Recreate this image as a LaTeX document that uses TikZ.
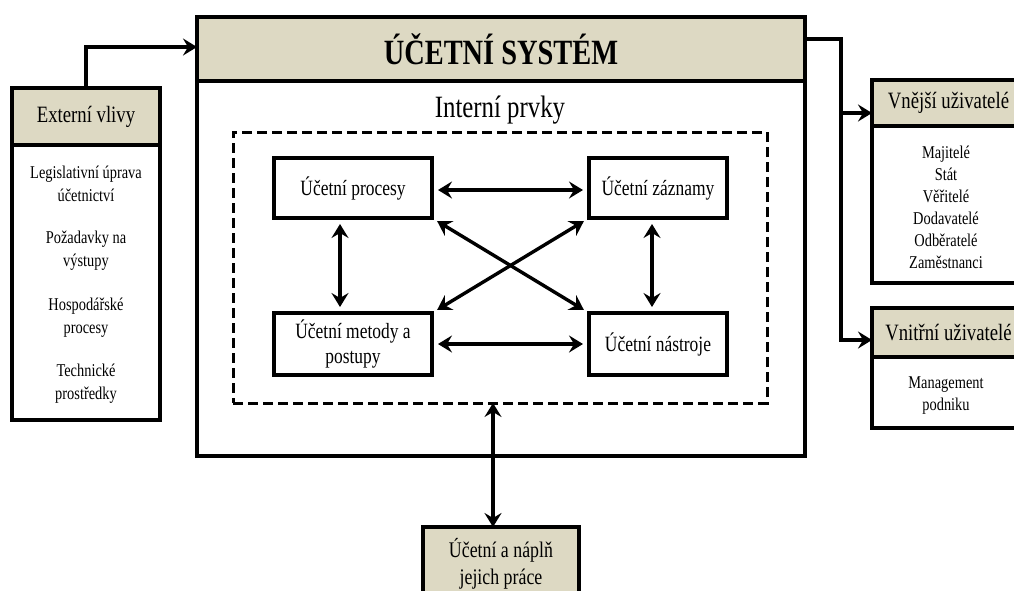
\documentclass[tikz,border=0pt]{standalone}
\usepackage{fontspec}
\setmainfont{Liberation Serif}[FakeStretch=0.8]
\usetikzlibrary{arrows.meta}
\definecolor{beige}{HTML}{DDD9C3}
\tikzset{
  frame/.style={draw=black, line width=4pt, inner sep=0pt, outer sep=0pt, align=center},
  head/.style={frame, fill=beige},
  plain/.style={inner sep=0pt, outer sep=0pt, align=center},
  tip/.tip={Stealth[length=14pt, width=17pt, inset=5pt]},
  wire/.style={line width=3.4pt, line join=miter},
  oneway/.style={wire, -tip},
  twoway/.style={wire, tip-tip, shorten <=6pt, shorten >=6pt},
  sizeT/.style={font=\fontsize{35.5}{40}\selectfont\bfseries},
  sizeH/.style={font=\fontsize{23.4}{28}\selectfont},
  sizeB/.style={font=\fontsize{21.8}{25}\selectfont},
  sizeL/.style={font=\fontsize{18}{23}\selectfont},
}
\begin{document}
\begin{tikzpicture}[x=1pt, y=-1pt]
\useasboundingbox (0,0) rectangle (1014,590);
\clip (0,0) rectangle (1014,590);
\fill[white] (0,0) rectangle (1014,590);

% accounting system frame with its title band
\node[frame, minimum width=608pt, minimum height=439pt] (main) at (501,236.5) {};
\node[head, sizeT, minimum width=608pt, minimum height=64pt] (title) at (501,49) {ÚČETNÍ SYSTÉM};
\node[plain, font=\fontsize{31}{36}\selectfont] (intl) at (500,110) {Interní prvky};
\node[draw=black, line width=3pt, dash pattern=on 10pt off 5pt, inner sep=0pt, outer sep=0pt,
      minimum width=534pt, minimum height=271pt] (inner) at (500,267.5) {};

% internal elements
\node[frame, sizeB, minimum width=158pt, minimum height=60pt] (proc) at (353,188) {Účetní procesy};
\node[frame, sizeB, minimum width=138pt, minimum height=60pt] (zazn) at (658,188) {Účetní záznamy};
\node[frame, sizeB, minimum width=158pt, minimum height=62pt] (meto) at (353,344) {Účetní metody a\\postupy};
\node[frame, sizeB, minimum width=138pt, minimum height=62pt] (nast) at (658,344) {Účetní nástroje};

% external influences
\node[head, sizeH, minimum width=148pt, minimum height=57pt] (exth) at (86,116.5) {Externí vlivy};
\node[frame, minimum width=148pt, minimum height=275pt] (extb) at (86,282.5) {};
\node[plain, sizeL] (ext1) at (86,183.5) {Legislativní úprava\\účetnictví};
\node[plain, sizeL] (ext2) at (86,250.5) {Požadavky na\\výstupy};
\node[plain, sizeL] (ext3) at (86,317.5) {Hospodářské\\procesy};
\node[plain, sizeL] (ext4) at (86,383.5) {Technické\\prostředky};

% external users
\node[head, sizeH, minimum width=153pt, minimum height=46pt] (vneh) at (948.5,103) {Vnější uživatelé};
\node[frame, minimum width=153pt, minimum height=157pt] (vneb) at (948.5,204.5) {};
\node[plain, font=\fontsize{18}{22}\selectfont] (vnel) at (946,207)
  {Majitelé\\Stát\\Věřitelé\\Dodavatelé\\Odběratelé\\Zaměstnanci};

% internal users
\node[head, sizeH, minimum width=153pt, minimum height=49pt] (vnih) at (948.5,332.5) {Vnitřní uživatelé};
\node[frame, minimum width=153pt, minimum height=71pt] (vnib) at (948.5,392.5) {};
\node[plain, font=\fontsize{18}{22}\selectfont] (vnil) at (946,396) {Management\\podniku};

% accountants
\node[head, minimum width=156pt, minimum height=83pt] (acct) at (501,568.5) {};
\node[plain, font=\fontsize{22.3}{27}\selectfont] (acctl) at (501,563.5) {Účetní a náplň\\jejich práce};

% connectors
\draw[oneway] (exth.north) |- ([yshift=2pt]title.west);
\coordinate (bus) at (841,340);
\coordinate (tap) at (841,113);
\draw[oneway] ([yshift=10pt]title.east) -| (bus) -- (bus -| vnih.west);
\draw[oneway] (tap) -- (tap -| vneh.west);

\draw[twoway] ([yshift=-2pt]proc.east) -- ([yshift=-2pt]zazn.west);
\draw[twoway] (meto.east) -- (nast.west);
\draw[twoway] ([xshift=-13pt]proc.south) -- ([xshift=-13pt]meto.north);
\draw[twoway] ([xshift=-6pt]zazn.south) -- ([xshift=-6pt]nast.north);
\draw[twoway] (proc.south east) -- (nast.north west);
\draw[twoway] (zazn.south west) -- (meto.north east);
\draw[wire, tip-tip] ([xshift=-8pt]acct.north) -- ([xshift=-8pt]acct.north |- inner.south);
\end{tikzpicture}
\end{document}
